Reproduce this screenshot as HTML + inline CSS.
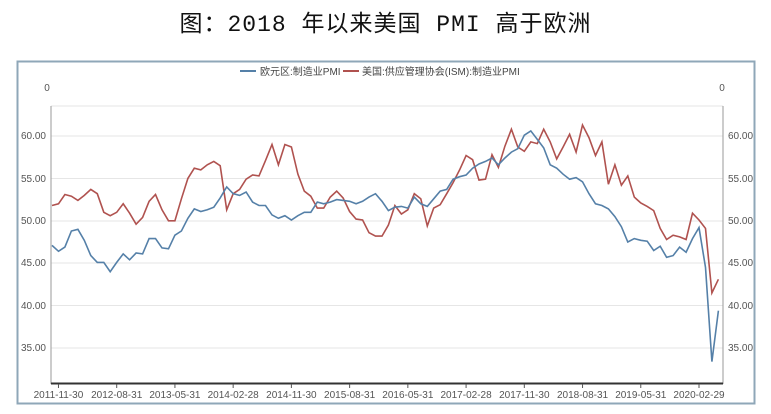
<!DOCTYPE html>
<html><head><meta charset="utf-8">
<style>
body{margin:0;background:#fff;width:771px;height:414px;overflow:hidden;font-family:"Liberation Sans","Noto Sans CJK SC",sans-serif}
.t{position:absolute;left:0;width:771px;top:4px;text-align:center;font-size:23px;font-family:"Liberation Mono","Noto Sans CJK SC",monospace;color:#111;letter-spacing:1px}
svg{position:absolute;left:0;top:0}
</style></head><body>
<div class="t">图：2018 年以来美国 PMI 高于欧洲</div>
<svg width="771" height="414" xmlns="http://www.w3.org/2000/svg" font-family="Liberation Sans, Noto Sans CJK SC, sans-serif">
<rect x="17.5" y="61.5" width="737" height="342" fill="none" stroke="#8fa7b8" stroke-width="2"/>
<g stroke="#e6e6e6" stroke-width="1">
<line x1="51" x2="723" y1="106" y2="106"/>
<line x1="51" x2="723" y1="136" y2="136"/>
<line x1="51" x2="723" y1="178.5" y2="178.5"/>
<line x1="51" x2="723" y1="221" y2="221"/>
<line x1="51" x2="723" y1="263" y2="263"/>
<line x1="51" x2="723" y1="305.5" y2="305.5"/>
<line x1="51" x2="723" y1="348" y2="348"/>
</g>
<line x1="51" x2="51" y1="106" y2="384" stroke="#999"/>
<line x1="723" x2="723" y1="106" y2="384" stroke="#999"/>
<line x1="51" x2="723" y1="383.5" y2="383.5" stroke="#333" stroke-width="2"/>
<g font-size="10" fill="#555">
<text x="47" y="91" text-anchor="middle">0</text>
<text x="722" y="91" text-anchor="middle">0</text>
<g text-anchor="end">
<text x="46" y="139">60.00</text><text x="46" y="182">55.00</text><text x="46" y="224">50.00</text><text x="46" y="266">45.00</text><text x="46" y="309">40.00</text><text x="46" y="351">35.00</text>
</g>
<g text-anchor="start">
<text x="728" y="139">60.00</text><text x="728" y="182">55.00</text><text x="728" y="224">50.00</text><text x="728" y="266">45.00</text><text x="728" y="309">40.00</text><text x="728" y="351">35.00</text>
</g>
<g text-anchor="middle" id="xl"></g>
</g>
<g id="xt" stroke="#555"></g>
<polyline id="us" fill="none" stroke="#b0524f" stroke-width="1.6"/>
<polyline id="eu" fill="none" stroke="#5580a8" stroke-width="1.6"/>
<g font-size="10" fill="#444">
<line x1="240" x2="256" y1="71" y2="71" stroke="#5580a8" stroke-width="2"/>
<text x="260" y="75">欧元区:制造业PMI</text>
<line x1="343" x2="359" y1="71" y2="71" stroke="#b0524f" stroke-width="2"/>
<text x="362" y="75">美国:供应管理协会(ISM):制造业PMI</text>
</g>
</svg>
<script>
var eu=[47.1,46.4,46.9,48.8,49.0,47.7,45.9,45.1,45.1,44.0,45.1,46.1,45.4,46.2,46.1,47.9,47.9,46.8,46.7,48.3,48.8,50.3,51.4,51.1,51.3,51.6,52.7,54.0,53.2,53.0,53.4,52.2,51.8,51.8,50.7,50.3,50.6,50.1,50.6,51.0,51.0,52.2,52.0,52.2,52.5,52.4,52.3,52.0,52.3,52.8,53.2,52.3,51.2,51.6,51.7,51.5,52.8,52.0,51.7,52.6,53.5,53.7,54.9,55.2,55.4,56.2,56.7,57.0,57.4,56.6,57.4,58.1,58.5,60.1,60.6,59.6,58.6,56.6,56.2,55.5,54.9,55.1,54.6,53.2,52.0,51.8,51.4,50.5,49.3,47.5,47.9,47.7,47.6,46.5,47.0,45.7,45.9,46.9,46.3,47.9,49.2,44.5,33.4,39.4];
var us=[51.8,52.0,53.1,52.9,52.4,53.0,53.7,53.2,51.0,50.6,51.0,52.0,50.9,49.6,50.4,52.3,53.1,51.3,50.0,50.0,52.6,55.0,56.2,56.0,56.6,57.0,56.5,51.3,53.2,53.7,54.9,55.4,55.3,57.1,59.0,56.6,59.0,58.7,55.5,53.5,52.9,51.5,51.5,52.8,53.5,52.7,51.1,50.2,50.1,48.6,48.2,48.2,49.5,51.8,50.8,51.3,53.2,52.6,49.4,51.5,51.9,53.2,54.5,56.0,57.7,57.2,54.8,54.9,57.8,56.3,58.8,60.8,58.7,58.2,59.3,59.1,60.8,59.3,57.3,58.7,60.2,58.1,61.3,59.8,57.7,59.3,54.3,56.6,54.2,55.3,52.8,52.1,51.7,51.2,49.1,47.8,48.3,48.1,47.8,50.9,50.1,49.1,41.5,43.1];
function X(i){return 52+i*6.47}function Y(v){return 136+(60-v)*8.48}
function pts(a){return a.map(function(v,i){return X(i).toFixed(1)+","+Y(v).toFixed(1)}).join(" ")}
document.getElementById("eu").setAttribute("points",pts(eu));
document.getElementById("us").setAttribute("points",pts(us));
var labs=["2011-11-30","2012-08-31","2013-05-31","2014-02-28","2014-11-30","2015-08-31","2016-05-31","2017-02-28","2017-11-30","2018-08-31","2019-05-31","2020-02-29"];
var ns="http://www.w3.org/2000/svg",g=document.getElementById("xl"),gt=document.getElementById("xt");
labs.forEach(function(l,k){var x=X(1+9*k);var t=document.createElementNS(ns,"text");t.setAttribute("x",x);t.setAttribute("y",398);t.textContent=l;g.appendChild(t);
var ln=document.createElementNS(ns,"line");ln.setAttribute("x1",x);ln.setAttribute("x2",x);ln.setAttribute("y1",384);ln.setAttribute("y2",388);gt.appendChild(ln);});
</script>
</body></html>
